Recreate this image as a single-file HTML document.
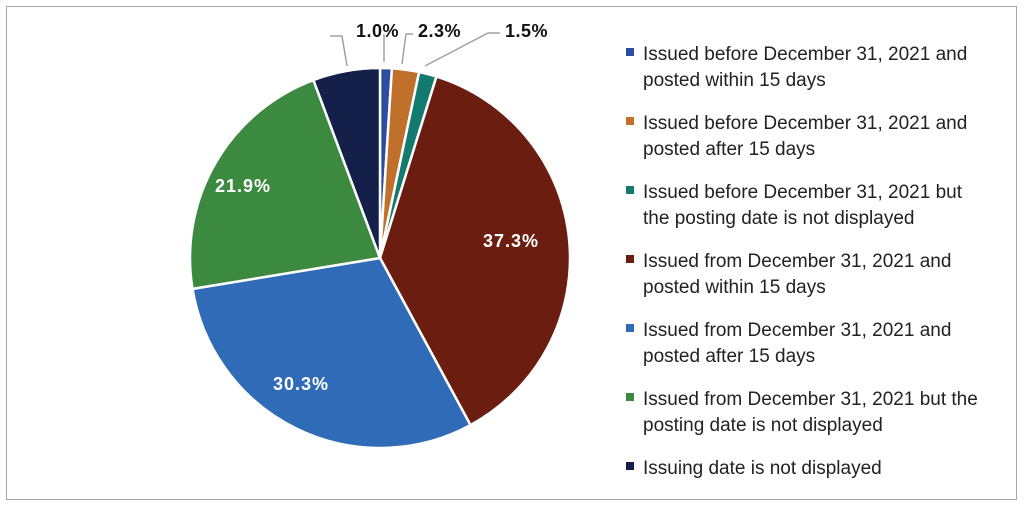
<!DOCTYPE html><html><head><style>body{margin:0;background:#fff;width:1024px;height:509px;overflow:hidden}</style></head><body>
<svg id="s" width="1024" height="509" xmlns="http://www.w3.org/2000/svg" font-family="Liberation Sans, sans-serif">
<rect x="6.5" y="6.5" width="1010" height="493" fill="#fff" stroke="#a6a6a6"/>
<g id="pie"></g>
<g stroke="#a0a0a0" stroke-width="1.5" fill="none">
<polyline points="330,36 342,36 347,66"/>
<polyline points="384,34 384,62"/>
<polyline points="413,34 406,34 402,64"/>
<polyline points="500,33 488,33 425,66"/>
</g>
<g font-weight="bold" font-size="18" fill="#111" letter-spacing="0.5">
<text x="356" y="37">1.0%</text><text x="418" y="37">2.3%</text><text x="505" y="37">1.5%</text>
</g>
<g font-weight="bold" font-size="18" fill="#fff" letter-spacing="1">
<text x="483" y="247">37.3%</text><text x="273" y="390">30.3%</text><text x="215" y="192">21.9%</text>
</g>
<g font-size="19" fill="#222" id="leg"></g>
</svg>
<script>
var cx=380,cy=258,r=190,vals=[1.0,2.3,1.5,37.3,30.3,21.9,5.7],cols=["#2d4ca3","#c0702b","#137a70","#6b1e10","#2f6bb7","#3c8a3f","#14204a"];
var a=0,h="";
vals.forEach(function(v,i){var b=a+v/100*2*Math.PI;
var x1=cx+r*Math.sin(a),y1=cy-r*Math.cos(a),x2=cx+r*Math.sin(b),y2=cy-r*Math.cos(b);
h+='<path d="M'+cx+','+cy+'L'+x1+','+y1+'A'+r+','+r+' 0 '+(b-a>Math.PI?1:0)+' 1 '+x2+','+y2+'Z" fill="'+cols[i]+'" stroke="#fff" stroke-width="2.5"/>';a=b;});
document.getElementById('pie').innerHTML=h;
var L=[["Issued before December 31, 2021 and","posted within 15 days"],["Issued before December 31, 2021 and","posted after 15 days"],["Issued before December 31, 2021 but","the posting date is not displayed"],["Issued from December 31, 2021 and","posted within 15 days"],["Issued from December 31, 2021 and","posted after 15 days"],["Issued from December 31, 2021 but the","posting date is not displayed"],["Issuing date is not displayed"]];
var g="";L.forEach(function(t,i){var y=60+i*69;g+='<rect x="626" y="'+(y-12)+'" width="8" height="8" fill="'+cols[i]+'"/><text x="643" y="'+y+'">'+t[0]+'</text>';if(t[1])g+='<text x="643" y="'+(y+26)+'">'+t[1]+'</text>';});
document.getElementById('leg').innerHTML=g;
</script>
</body></html>
